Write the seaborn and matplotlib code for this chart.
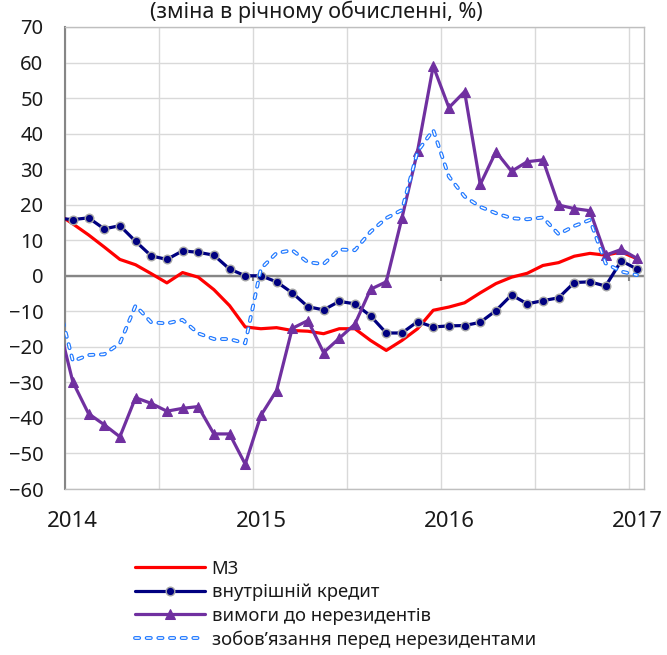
import numpy as np
import matplotlib
matplotlib.use("Agg")
import matplotlib.pyplot as plt
import seaborn as sns

# monthly points, Dec 2013 .. Jan 2017 (first point sits just left of the axis)
months = np.arange(-1, 37) + 0.5

m3 = [17.5, 14.6, 11.5, 8.1, 4.6, 3.1, 0.6, -2.0, 0.9, -0.4, -3.9, -8.4, -14.4,
      -14.9, -14.6, -15.4, -15.6, -16.3, -14.9, -14.9, -18.2, -21.0, -18.2, -14.9,
      -9.7, -8.8, -7.6, -4.8, -2.2, -0.4, 0.7, 2.9, 3.7, 5.5, 6.3, 5.8, 6.7, 4.8]
credit = [16.2, 15.8, 16.3, 13.2, 14.1, 9.7, 5.6, 4.6, 7.0, 6.6, 5.8, 1.9, 0.0,
          0.0, -1.7, -4.8, -8.7, -9.6, -7.2, -7.9, -11.3, -16.1, -16.1, -12.9,
          -14.4, -14.1, -14.0, -13.1, -9.8, -5.4, -7.9, -7.0, -6.2, -1.9, -1.7, -2.9, 4.2, 1.9]
claims = [-12.0, -29.9, -38.8, -41.9, -45.3, -34.3, -35.9, -38.1, -37.3, -36.8, -44.5, -44.5, -53.0,
          -39.3, -32.3, -14.8, -12.6, -21.6, -17.6, -13.6, -3.8, -1.7, 16.2, 35.1,
          59.0, 47.3, 51.8, 25.7, 34.9, 29.4, 32.1, 32.6, 19.9, 18.9, 18.3, 5.8, 7.4, 4.9]
liabs = [-6.5, -24.0, -22.3, -22.1, -19.0, -8.4, -13.1, -13.4, -12.4, -16.2, -17.8, -17.8, -19.0,
         2.0, 6.4, 7.2, 3.8, 3.3, 7.4, 7.2, 12.4, 16.2, 18.5, 35.0,
         41.0, 27.9, 22.3, 19.4, 17.6, 16.2, 15.9, 16.4, 11.7, 14.0, 15.7, 3.5, 1.2, 0.2]

labels = ["М3", "внутрішній кредит", "вимоги до нерезидентів", "зобов’язання перед нерезидентами"]
years = ["2014", "2015", "2016", "2017"]
title = "(зміна в річному обчисленні, %)"

sns.set_style("white")
plt.rcParams["font.family"] = ["Noto Sans", "DejaVu Sans"]
plt.rcParams["lines.scale_dashes"] = False

fig = plt.figure(figsize=(6.67, 6.55), dpi=100)
ax = fig.add_axes([0.0975, 0.2534, 0.868, 0.7054])

sns.lineplot(x=months, y=m3, ax=ax, color="#FF0000", lw=2.3, zorder=3)
sns.lineplot(x=months, y=credit, ax=ax, color="#000080", lw=2.3, marker="o",
             markersize=6.2, markerfacecolor="#000080", markeredgecolor="#A6A6A6",
             markeredgewidth=1.0, zorder=4)
sns.lineplot(x=months, y=claims, ax=ax, color="#7030A0", lw=2.3, marker="^",
             markersize=7.5, markerfacecolor="#7030A0", markeredgecolor="#7030A0", zorder=5)
sns.lineplot(x=months, y=liabs, ax=ax, color="#1F78FF", lw=2.8,
             linestyle=(0, (3.0, 5.4)), dash_capstyle="round", zorder=6)
sns.lineplot(x=months, y=liabs, ax=ax, color="white", lw=1.1,
             linestyle=(0, (3.0, 5.4)), dash_capstyle="round", zorder=7)

ax.set_xlim(0, 36.95)
ax.set_ylim(-60, 70)
ax.set_yticks(range(-60, 71, 10))
ax.set_xticks([0.5, 12.5, 24.5, 36.5])
ax.set_xticklabels(years)
ax.set_xticks(range(0, 37, 6), minor=True)
ax.tick_params(axis="x", which="both", length=0, labelsize=16, pad=16, colors="#1a1a1a")
ax.tick_params(axis="y", direction="out", length=4.5, width=1, color="#868686",
               labelsize=14.5, pad=11, labelcolor="#1a1a1a")
ax.grid(axis="y", color="#D9D9D9", lw=1)
ax.grid(axis="x", which="minor", color="#D9D9D9", lw=1)
ax.set_xlabel("")
ax.set_ylabel("")

for side in ["top", "right", "bottom"]:
    ax.spines[side].set_color("#BFBFBF")
    ax.spines[side].set_linewidth(1)
ax.spines["left"].set_color("#868686")
ax.spines["left"].set_linewidth(1.5)

ax.axhline(0, color="#868686", lw=1.7, zorder=2)
ax.vlines([12, 24, 36], -1.6, 0, color="#868686", lw=1.5, zorder=2)

fig.text(0.475, 0.999, title, ha="center", va="top", fontsize=15.5, color="#1a1a1a")

lines = ax.get_lines()
handles = [lines[0], lines[1], lines[2], (lines[3], lines[4])]
leg = fig.legend(handles, labels, loc="upper left", bbox_to_anchor=(0.203, 0.1455),
                 frameon=False, fontsize=13.3, handlelength=3.75, handletextpad=0.37,
                 labelspacing=0.30, borderpad=0, borderaxespad=0, numpoints=1)
for t in leg.get_texts():
    t.set_color("#1a1a1a")

fig.savefig("out.png", dpi=100)
